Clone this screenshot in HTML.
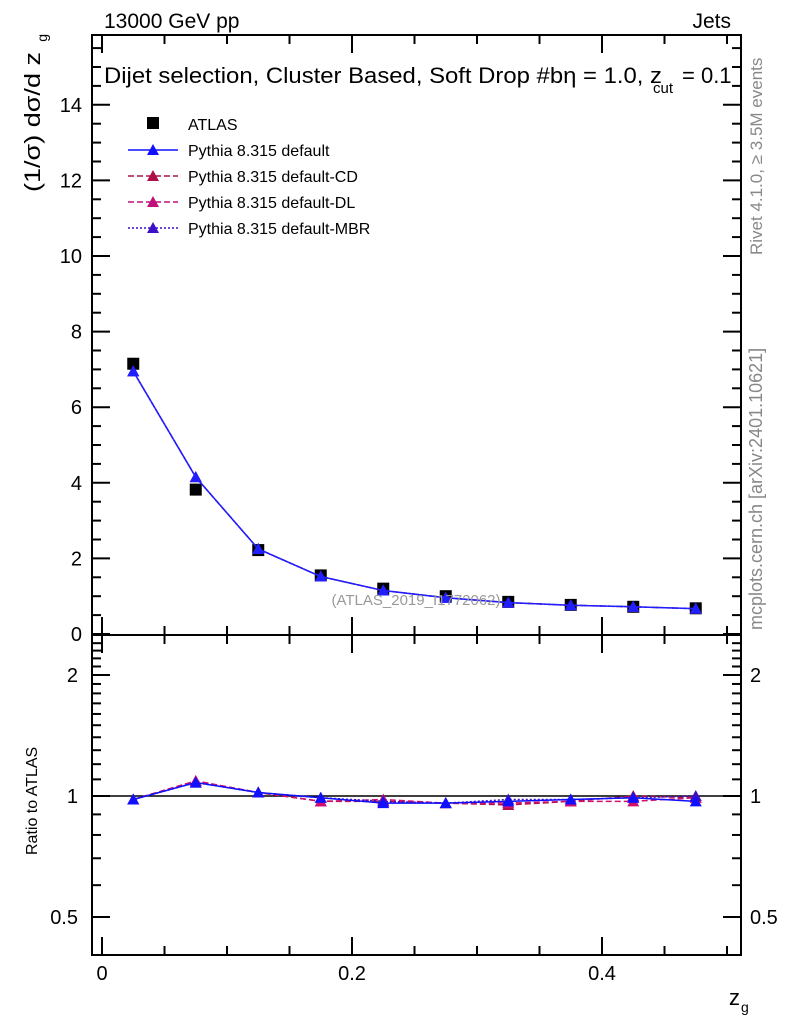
<!DOCTYPE html>
<html><head><meta charset="utf-8"><style>
body{margin:0;background:#fff}
svg{display:block;font-family:"Liberation Sans",sans-serif}
</style></head><body>
<svg id="c" width="786" height="1024">
</svg>
<script>
const xs=[0.025,0.075,0.125,0.175,0.225,0.275,0.325,0.375,0.425,0.475];
const atlas=[7.15,3.82,2.22,1.55,1.2,1.0,0.85,0.77,0.72,0.68];
const mcDefault=[6.95,4.15,2.25,1.52,1.15,0.96,0.83,0.76,0.72,0.67];
const rDefault=[0.98,1.08,1.02,0.99,0.96,0.96,0.97,0.98,0.99,0.97];
const rCD=[0.98,1.09,1.02,0.97,0.97,0.96,0.95,0.97,1.0,0.99];
const rDL=[0.98,1.09,1.02,0.97,0.98,0.96,0.96,0.97,0.97,0.99];
const rMBR=[0.98,1.08,1.02,0.99,0.97,0.96,0.98,0.98,0.99,1.0];
const mainTicks=[0,2,4,6,8,10,12,14];
const ratioTicks=[0.5,1,2];
const xTicks=[0,0.2,0.4];
const xTickLabels=["0","0.2","0.4"];
const L=92,R=741,T=35,M=635,B=955;
const X=v=>102+v*1250;
const Y=v=>634-v*37.8;
const YR=v=>796-121*Math.log2(v);
const svg=document.getElementById('c');
const NS='http://www.w3.org/2000/svg';
function el(tag,a,name,txt){const e=document.createElementNS(NS,tag);for(const k in a)e.setAttribute(k,a[k]);


if(txt!==undefined)e.textContent=txt;svg.appendChild(e);return e;}
el('rect',{x:L,y:T,width:R-L,height:M-T,fill:'none',stroke:'#000','stroke-width':2},'main-frame');
el('rect',{x:L,y:M,width:R-L,height:B-M,fill:'none',stroke:'#000','stroke-width':2},'ratio-frame');
for(let v=0;v<=0.5001;v+=0.05){const maj=Math.abs(v/0.2-Math.round(v/0.2))<1e-6;const len=maj?18:9;
for(const [yb,yt] of [[M,T],[B,M]]){
el('line',{x1:X(v),x2:X(v),y1:yb,y2:yb-len,stroke:'#000','stroke-width':2},'x-tick');
el('line',{x1:X(v),x2:X(v),y1:yt,y2:yt+len,stroke:'#000','stroke-width':2},'x-tick');}}
xTicks.forEach((v,i)=>el('text',{x:X(v),y:980,'text-anchor':'middle','font-size':20},'x-tick-label',xTickLabels[i]));
for(let v=0;v<=15.5;v+=0.5){const maj=v%2===0;const len=maj?18:9;
el('line',{x1:L,x2:L+len,y1:Y(v),y2:Y(v),stroke:'#000','stroke-width':2},'y-tick');
el('line',{x1:R,x2:R-len,y1:Y(v),y2:Y(v),stroke:'#000','stroke-width':2},'y-tick');}
mainTicks.forEach(v=>el('text',{x:82,y:Y(v)+7,'text-anchor':'end','font-size':20},'y-tick-label',String(v)));
for(let v=0.4;v<=2.5;v+=0.1){const maj=[0.5,1,2].some(t=>Math.abs(t-v)<1e-6);const len=maj?18:9;const y=YR(v);if(y<M||y>B)continue;
el('line',{x1:L,x2:L+len,y1:y,y2:y,stroke:'#000','stroke-width':2},'ratio-tick');
el('line',{x1:R,x2:R-len,y1:y,y2:y,stroke:'#000','stroke-width':2},'ratio-tick');}
ratioTicks.forEach(v=>{el('text',{x:78,y:YR(v)+7,'text-anchor':'end','font-size':20},'ratio-tick-label',String(v));
el('text',{x:750,y:YR(v)+7,'font-size':20},'ratio-tick-label-right',String(v));});
el('line',{x1:L,x2:R,y1:YR(1),y2:YR(1),stroke:'#000','stroke-width':1.5},'ratio-unity-line');
function line(vals,yf,color,dash,name){el('polyline',{points:xs.map((x,i)=>X(x)+','+yf(vals[i])).join(' '),fill:'none',stroke:color,'stroke-width':1.5,'stroke-dasharray':dash},name);
xs.forEach((x,i)=>{const cx=X(x),cy=yf(vals[i]);el('path',{d:`M${cx-6},${cy+5}L${cx+6},${cy+5}L${cx},${cy-6}Z`,fill:color},name+'-marker');});}
xs.forEach((x,i)=>el('rect',{x:X(x)-6,y:Y(atlas[i])-6,width:12,height:12,fill:'#000'},'atlas-point'));
line(mcDefault,Y,'#c0107a','6,3','mc-cd');
line(mcDefault,Y,'#3b10c8','2,2','mc-mbr');
line(mcDefault,Y,'#2020ff','','mc-default');
line(rCD,YR,'#b0104a','6,3','ratio-cd');
line(rDL,YR,'#d01070','6,3','ratio-dl');
line(rMBR,YR,'#4010c0','2,2','ratio-mbr');
line(rDefault,YR,'#1010ff','','ratio-default');
el('text',{x:104,y:28,'font-size':21},'header-left','13000 GeV pp');
el('text',{x:731,y:28,'font-size':21,'text-anchor':'end'},'header-right','Jets');
el('text',{x:104,y:83,'font-size':22,textLength:558,lengthAdjust:'spacingAndGlyphs'},'plot-title','Dijet selection, Cluster Based, Soft Drop #b\u03B7 = 1.0, z');
el('text',{x:653,y:93,'font-size':15},'plot-title-sub','cut');
el('text',{x:682,y:83,'font-size':22},'plot-title-end','= 0.1');
el('text',{x:416,y:605,'font-size':15,fill:'#999','text-anchor':'middle'},'analysis-id','(ATLAS_2019_I1772062)');
el('text',{x:740,y:1005,'font-size':22,'text-anchor':'end'},'x-axis-title','z');
el('text',{x:741,y:1012,'font-size':14},'x-axis-title-sub','g');
el('text',{x:0,y:0,'font-size':22,textLength:140,lengthAdjust:'spacingAndGlyphs',transform:'translate(40,192) rotate(-90)'},'y-axis-title','(1/\u03C3) d\u03C3/d z');
el('text',{x:0,y:0,'font-size':14,'text-anchor':'end',transform:'translate(47,34) rotate(-90)'},'y-axis-title-sub','g');
el('text',{x:0,y:0,'font-size':16,transform:'translate(37,855) rotate(-90)'},'ratio-axis-title','Ratio to ATLAS');
el('text',{x:0,y:0,'font-size':17,fill:'#888',transform:'translate(762,255) rotate(-90)'},'rivet-label','Rivet 4.1.0, \u2265 3.5M events');
el('text',{x:0,y:0,'font-size':18,fill:'#888',transform:'translate(762,630) rotate(-90)'},'mcplots-label','mcplots.cern.ch [arXiv:2401.10621]');
el('rect',{x:147,y:117,width:12,height:12,fill:'#000'},'legend-atlas-marker');
el('text',{x:188,y:130,'font-size':16},'legend-atlas','ATLAS');
const leg=[['#1010ff','','Pythia 8.315 default'],['#b0104a','6,3','Pythia 8.315 default-CD'],['#c0107a','6,3','Pythia 8.315 default-DL'],['#3b10c8','2,2','Pythia 8.315 default-MBR']];
leg.forEach((s,i)=>{const y=150+i*26;
el('line',{x1:128,x2:178,y1:y,y2:y,stroke:s[0],'stroke-width':1.5,'stroke-dasharray':s[1]},'legend-line');
el('path',{d:`M${147},${y+5}L${159},${y+5}L${153},${y-6}Z`,fill:s[0]},'legend-marker');
el('text',{x:188,y:y+6,'font-size':16},'legend-entry',s[2]);});
</script>
</body></html>
